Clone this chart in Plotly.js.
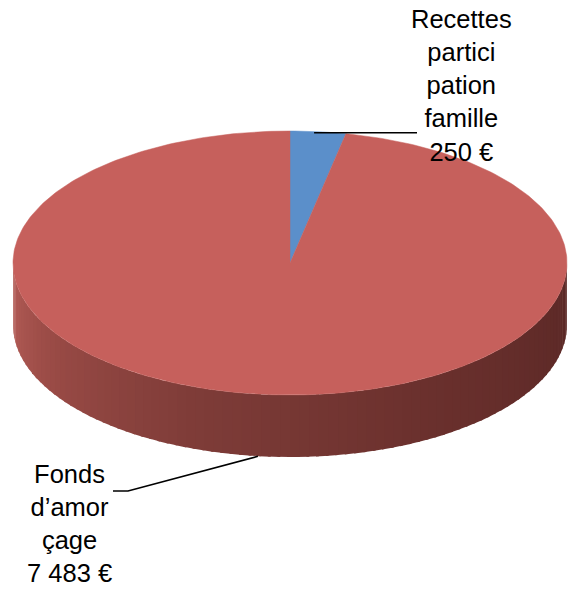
<!DOCTYPE html>
<html>
<head>
<meta charset="utf-8">
<script src="https://cdn.plot.ly/plotly-3.0.1.min.js"></script>
<style>html,body{margin:0;padding:0;background:#fff;}#chart{width:568px;height:589px;}</style>
</head>
<body>
<div id="chart"></div>
<script>
// ---- data ----
const categories = ["Recettes participation famille", "Fonds d’amorçage"];
const values = [250, 7483];
const labelLines = [["Recettes", "partici", "pation", "famille"], ["Fonds", "d’amor", "çage"]];
const sliceColors = ["#5b8fca", "#c6605c"];

// ---- geometry (style) ----
const W = 568, H = 589;
const cx = 290, cy = 263, rx = 277, ry = 132, depth = 62;
const labelPos = [{x: 461, y: 85}, {x: 69, y: 523}];

function fmt(v) {
  const s = String(Math.round(v));
  return s.replace(/\B(?=(\d{3})+(?!\d))/g, " ") + " €";
}
function pt(thetaDeg, dy) {
  const t = thetaDeg * Math.PI / 180;
  return [cx + rx * Math.sin(t), cy - ry * Math.cos(t) + (dy || 0)];
}
function hexToRgb(h) { return [1,3,5].map(i => parseInt(h.substr(i,2),16)); }
function mix(a, b, f) {
  const A = hexToRgb(a), B = hexToRgb(b);
  return "rgb(" + A.map((v,i) => Math.round(v + (B[i]-v)*f)).join(",") + ")";
}

const total = values.reduce((a,b)=>a+b,0);
const starts = [], ends = [];
let acc = 0;
values.forEach(v => { starts.push(acc/total*360); acc += v; ends.push(acc/total*360); });

const traces = [];

// side wall (front half, theta 90..270), strips
const N = 90;
const wallStops = [[90, "#5a2826"], [150, "#6a302d"], [200, "#7e3c38"], [240, "#9a4b46"], [270, "#b65e58"]];
function wallColor(th) {
  for (let i = 0; i < wallStops.length - 1; i++) {
    const [a, ca] = wallStops[i], [b, cb] = wallStops[i+1];
    if (th >= a && th <= b) return mix(ca, cb, (th - a) / (b - a));
  }
  return wallStops[wallStops.length-1][1];
}
for (let i = 0; i < N; i++) {
  const a = 90 + 180 * i / N;
  const b = Math.min(270, 90 + 180 * (i + 1) / N + 0.6);
  const xs = [], ys = [];
  const steps = 4;
  for (let k = 0; k <= steps; k++) { const p = pt(a + (b-a)*k/steps, 0); xs.push(p[0]); ys.push(p[1]); }
  for (let k = steps; k >= 0; k--) { const p = pt(a + (b-a)*k/steps, depth); xs.push(p[0]); ys.push(p[1]); }
  const c = wallColor((a+b)/2);
  traces.push({type: "scatter", mode: "lines", x: xs, y: ys, fill: "toself", fillcolor: c,
    line: {color: c, width: 0}, hoverinfo: "skip", showlegend: false});
}

// top face sectors
values.forEach((v, i) => {
  const xs = [cx], ys = [cy];
  const n = Math.max(6, Math.ceil((ends[i] - starts[i]) / 1));
  for (let k = 0; k <= n; k++) {
    const p = pt(starts[i] + (ends[i] - starts[i]) * k / n, 0);
    xs.push(p[0]); ys.push(p[1]);
  }
  xs.push(cx); ys.push(cy);
  traces.push({type: "scatter", mode: "lines", x: xs, y: ys, fill: "toself", fillcolor: sliceColors[i],
    line: {color: sliceColors[i], width: 0.5}, name: categories[i], text: fmt(v), hoverinfo: "name+text", showlegend: false});
});

// leader lines
const mid0 = (starts[0] + ends[0]) / 2;
const p0 = pt(mid0, 0);
traces.push({type: "scatter", mode: "lines", x: [p0[0] - 4, 417], y: [p0[1] + 1, p0[1] + 1],
  line: {color: "#000", width: 1.6}, hoverinfo: "skip", showlegend: false});
const mid1 = (starts[1] + ends[1]) / 2;
const p1 = pt(mid1, depth);
traces.push({type: "scatter", mode: "lines", x: [p1[0] - 4, 128, 113], y: [p1[1], 491, 491],
  line: {color: "#000", width: 1.6}, hoverinfo: "skip", showlegend: false});

const annotations = values.map((v, i) => ({
  x: labelPos[i].x, y: labelPos[i].y, xref: "x", yref: "y", showarrow: false,
  xanchor: "center", yanchor: "middle", align: "center", borderpad: 0,
  text: labelLines[i].concat([fmt(v)]).join("<br>"),
  font: {family: "Liberation Sans, Arial, sans-serif", size: 25.5, color: "#000"}
}));

Plotly.newPlot("chart", traces, {
  width: W, height: H, margin: {l: 0, r: 0, t: 0, b: 0},
  paper_bgcolor: "#fff", plot_bgcolor: "#fff",
  xaxis: {range: [0, W], visible: false, fixedrange: true},
  yaxis: {range: [H, 0], visible: false, fixedrange: true},
  showlegend: false, annotations: annotations
}, {displayModeBar: false, staticPlot: true});
</script>
</body>
</html>
